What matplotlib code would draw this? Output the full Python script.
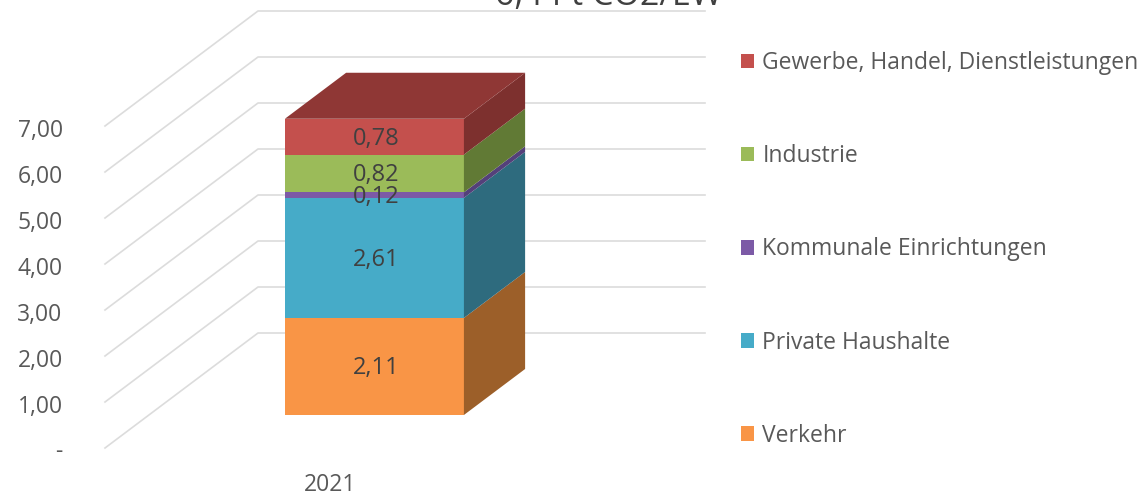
import matplotlib
matplotlib.use("Agg")
import matplotlib.pyplot as plt
from matplotlib.patches import Polygon, Patch
from matplotlib.transforms import ScaledTranslation

categories = ["Verkehr", "Private Haushalte", "Kommunale Einrichtungen", "Industrie", "Gewerbe, Handel, Dienstleistungen"]
values = [2.11, 2.61, 0.12, 0.82, 0.78]
labels = ["2,11", "2,61", "0,12", "0,82", "0,78"]
front_colors = ["#F99546", "#46ABC8", "#7C5AA6", "#9BBB59", "#C4504D"]
side_colors = ["#9C5F29", "#2E6B7E", "#54407A", "#617A35", "#7D302E"]
top_color = "#8F3735"
y_ticks = [0, 1, 2, 3, 4, 5, 6, 7]
y_labels = ["-", "1,00", "2,00", "3,00", "4,00", "5,00", "6,00", "7,00"]
year = "2021"
title = "6,44 t CO2/EW"

plt.rcParams['font.family'] = ['Open Sans', 'DejaVu Sans']

# pixel scale of the picture: 46 px per unit on the value axis
W, H = 1146, 493
PX_PER_UNIT = 46
FLOOR_Y = 448
AX_BOTTOM = 470
LEFT, RIGHT = 105, 705

# depth of the fake 3d floor
DEPTH_X = 153
DEPTH_V = 115 / PX_PER_UNIT
BAR_D0, BAR_D1 = 0.287, 0.687
BAR_X = 330.5
BAR_W = 179

fig = plt.figure(figsize=(W / 100, H / 100), dpi=100)
ax = fig.add_axes([LEFT / W, (H - AX_BOTTOM) / H, (RIGHT - LEFT) / W, AX_BOTTOM / H])
ax.set_xlim(LEFT, RIGHT)
ax.set_ylim((FLOOR_Y - AX_BOTTOM) / PX_PER_UNIT, FLOOR_Y / PX_PER_UNIT)
for s in ax.spines.values():
    s.set_visible(False)


def proj(x, v, d):
    return (x + DEPTH_X * d, v + DEPTH_V * d)


# gridlines: slanted side wall + back wall
for v in y_ticks:
    p0 = proj(LEFT, v, 0)
    p1 = proj(LEFT, v, 1)
    ax.plot([p0[0], p1[0], RIGHT], [p0[1], p1[1], p1[1]], color="#DCDCDC", lw=1.2, zorder=1, clip_on=False)

x0 = BAR_X - BAR_W / 2
x1 = BAR_X + BAR_W / 2
bottom = 0
for val, lab, fc, sc in zip(values, labels, front_colors, side_colors):
    top = bottom + val
    ax.add_patch(Polygon([proj(x0, bottom, BAR_D0), proj(x1, bottom, BAR_D0), proj(x1, top, BAR_D0), proj(x0, top, BAR_D0)],
                         facecolor=fc, edgecolor="none", zorder=3))
    ax.add_patch(Polygon([proj(x1, bottom, BAR_D0), proj(x1, bottom, BAR_D1), proj(x1, top, BAR_D1), proj(x1, top, BAR_D0)],
                         facecolor=sc, edgecolor="none", zorder=3))
    cx, cy = proj(BAR_X, bottom + val / 2, BAR_D0)
    ax.text(cx + 2, cy - 2 / PX_PER_UNIT, lab, ha="center", va="center", fontsize=17, color="#404040", zorder=5)
    bottom = top
ax.add_patch(Polygon([proj(x0, bottom, BAR_D0), proj(x1, bottom, BAR_D0), proj(x1, bottom, BAR_D1), proj(x0, bottom, BAR_D1)],
                     facecolor=top_color, edgecolor="none", zorder=3))

ax.set_yticks(y_ticks)
ax.set_yticklabels(y_labels, fontsize=16.5, color="#595959")
ax.set_xticks([BAR_X])
ax.set_xticklabels([year], fontsize=16.5, color="#595959")
ax.tick_params(axis="both", length=0)
ax.tick_params(axis="y", pad=30.5)
ax.tick_params(axis="x", pad=2)
for t in ax.get_yticklabels():
    t.set_transform(t.get_transform() + ScaledTranslation(0, -1.5 / 100, fig.dpi_scale_trans))

handles = [Patch(facecolor=c, edgecolor="none", label=n) for c, n in zip(front_colors, categories)][::-1]
fig.legend(handles=handles, loc="upper left", bbox_to_anchor=(741 / W, 1 - 51 / H), frameon=False,
           fontsize=16.5, labelcolor="#595959", handlelength=0.57, handleheight=0.6, handletextpad=0.36,
           labelspacing=3.02, borderpad=0, borderaxespad=0)

fig.text(609 / W, 1 - 5 / H, title, ha="center", va="baseline", fontsize=24.5, color="#404040")

fig.savefig("out.png", dpi=100)
